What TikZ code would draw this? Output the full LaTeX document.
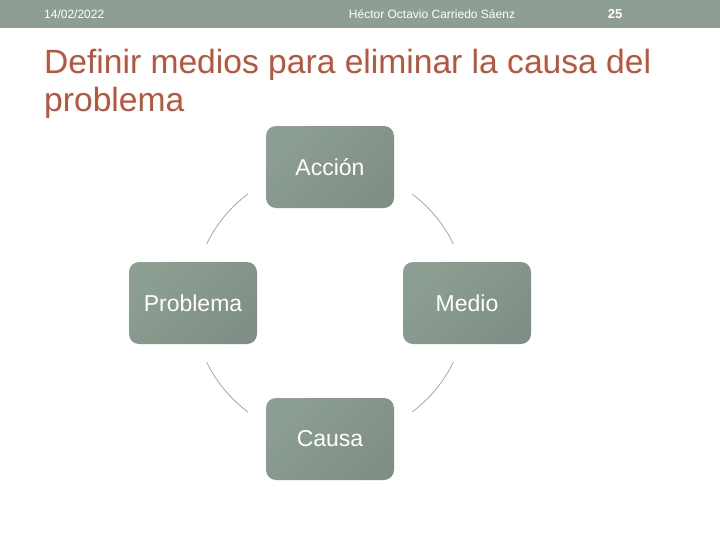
\documentclass[tikz,border=0pt]{standalone}
\usepackage{fontspec}
\setmainfont{Liberation Sans}
\usetikzlibrary{backgrounds}
\usetikzlibrary{shapes}
\definecolor{boxgray}{RGB}{141,158,147}
\definecolor{boxdark}{RGB}{127,143,133}
\definecolor{bargray}{RGB}{143,158,148}
\definecolor{titlered}{RGB}{185,85,60}
\definecolor{ringgray}{RGB}{165,165,165}

\begin{document}
\begin{tikzpicture}[x=1pt,y=-1pt,ampersand replacement=\&]
\tikzstyle{stage} = [rectangle, rounded corners=10, minimum width=128, minimum height=82,
inner sep=0, text=white, font=\fontsize{23}{27}\selectfont,
top color=boxgray, middle color=boxgray, bottom color=boxdark, shading angle=45,
preaction={draw=white, line width=36}]
\tikzstyle{ring} = [draw=ringgray, line width=0.8]
\tikzstyle{headtext} = [text=white, font=\fontsize{12}{14}\selectfont, inner sep=0]
\useasboundingbox (0,0) rectangle (720,540);
% header bar
\fill[bargray] (0,0) rectangle (720,28);
\node[headtext, anchor=west] (fecha) at (44,14) {14/02/2022};
\node[headtext] (autor) at (432,14) {Héctor Octavio Carriedo Sáenz};
\node[headtext, font=\fontsize{13}{15}\selectfont\bfseries] (pag) at (615,14) {25};
% title
\node[anchor=north west, inner sep=0, align=left, text=titlered,
font=\fontsize{33.6}{38}\selectfont] (titulo) at (44,49)
{Definir medios para eliminar la causa del\\problema};
% the white halo counts in the cell size, hence the negative column sep
\matrix (ciclo) at (330,303) [column sep=-27,row sep=18]
{
% row 1
\& \node [stage] (acc) {Acción}; \& \\
\node [stage] (prob) {Problema}; \& \& \node [stage] (med) {Medio}; \\
\& \node [stage] (cau) {Causa}; \& \\
};
\begin{scope}[on background layer]
\fill[white] (0,0) rectangle (720,540);
\path[ring] (acc.center) to[bend right=45] (prob.center);
\path[ring] (prob.center) to[bend right=45] (cau.center);
\path[ring] (cau.center) to[bend right=45] (med.center);
\path[ring] (med.center) to[bend right=45] (acc.center);
\end{scope}
\end{tikzpicture}
\end{document}
